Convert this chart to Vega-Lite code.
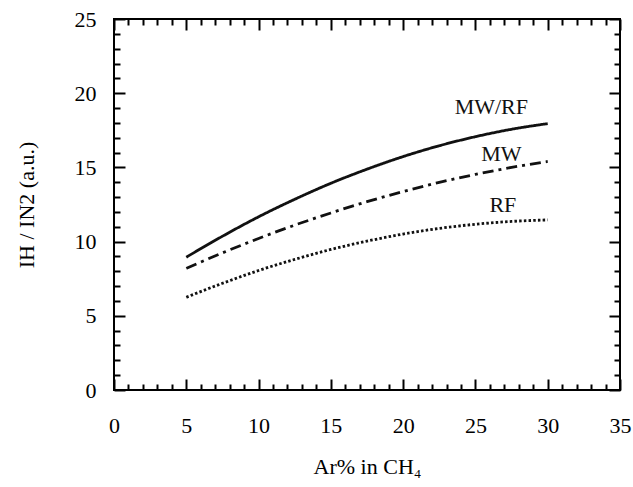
{
  "$schema": "https://vega.github.io/schema/vega-lite/v6.json",
  "width": 506,
  "height": 371,
  "autosize": {"type": "none"},
  "padding": {"left": 114, "top": 19, "right": 13, "bottom": 97},
  "background": "#ffffff",
  "config": {
    "view": {"stroke": "#000000", "strokeWidth": 2},
    "font": "Liberation Serif",
    "axis": {
      "grid": false,
      "domain": false,
      "tickColor": "#000000",
      "tickWidth": 2,
      "labelFont": "Liberation Serif",
      "labelColor": "#000000",
      "labelFontSize": 22,
      "titleFont": "Liberation Serif",
      "titleColor": "#000000",
      "titleFontSize": 22,
      "titleFontWeight": "normal"
    }
  },
  "datasets": {
    "curves": [
      {"series": "MW/RF", "x": 5, "y": 8.95},
      {"series": "MW/RF", "x": 7.5, "y": 10.36},
      {"series": "MW/RF", "x": 10, "y": 11.67},
      {"series": "MW/RF", "x": 12.5, "y": 12.85},
      {"series": "MW/RF", "x": 15, "y": 13.93},
      {"series": "MW/RF", "x": 17.5, "y": 14.88},
      {"series": "MW/RF", "x": 20, "y": 15.73},
      {"series": "MW/RF", "x": 22.5, "y": 16.46},
      {"series": "MW/RF", "x": 25, "y": 17.07},
      {"series": "MW/RF", "x": 27.5, "y": 17.57},
      {"series": "MW/RF", "x": 30, "y": 17.95},
      {"series": "MW", "x": 5, "y": 8.2},
      {"series": "MW", "x": 7.5, "y": 9.24},
      {"series": "MW", "x": 10, "y": 10.21},
      {"series": "MW", "x": 12.5, "y": 11.11},
      {"series": "MW", "x": 15, "y": 11.93},
      {"series": "MW", "x": 17.5, "y": 12.69},
      {"series": "MW", "x": 20, "y": 13.37},
      {"series": "MW", "x": 22.5, "y": 13.99},
      {"series": "MW", "x": 25, "y": 14.53},
      {"series": "MW", "x": 27.5, "y": 15.0},
      {"series": "MW", "x": 30, "y": 15.4},
      {"series": "RF", "x": 5, "y": 6.25},
      {"series": "RF", "x": 7.5, "y": 7.19},
      {"series": "RF", "x": 10, "y": 8.05},
      {"series": "RF", "x": 12.5, "y": 8.8},
      {"series": "RF", "x": 15, "y": 9.47},
      {"series": "RF", "x": 17.5, "y": 10.03},
      {"series": "RF", "x": 20, "y": 10.51},
      {"series": "RF", "x": 22.5, "y": 10.89},
      {"series": "RF", "x": 25, "y": 11.17},
      {"series": "RF", "x": 27.5, "y": 11.36},
      {"series": "RF", "x": 30, "y": 11.46}
    ],
    "labels": [
      {"label": "MW/RF", "x": 26.1, "y": 19.1},
      {"label": "MW", "x": 26.8, "y": 15.9},
      {"label": "RF", "x": 26.9, "y": 12.45}
    ]
  },
  "layer": [
    {
      "data": {"name": "curves"},
      "mark": {"type": "line", "interpolate": "monotone", "strokeWidth": 2.8, "color": "#111111"},
      "encoding": {
        "x": {
          "field": "x", "type": "quantitative",
          "scale": {"domain": [0, 35], "nice": false, "zero": false},
          "axis": {
            "orient": "bottom",
            "values": [0,1,2,3,4,5,6,7,8,9,10,11,12,13,14,15,16,17,18,19,20,21,22,23,24,25,26,27,28,29,30,31,32,33,34,35],
            "labelExpr": "datum.value % 5 === 0 ? datum.label : ''",
            "tickSize": {"condition": {"test": "datum.value % 5 === 0", "value": -11}, "value": -6},
            "labelPadding": 36,
            "labelFlush": false,
            "labelOverlap": false,
            "title": "Ar% in CH₄",
            "titlePadding": 15
          }
        },
        "y": {
          "field": "y", "type": "quantitative",
          "scale": {"domain": [0, 25], "nice": false},
          "axis": {
            "orient": "left",
            "values": [0,1,2,3,4,5,6,7,8,9,10,11,12,13,14,15,16,17,18,19,20,21,22,23,24,25],
            "labelExpr": "datum.value % 5 === 0 ? datum.label : ''",
            "tickSize": {"condition": {"test": "datum.value % 5 === 0", "value": -11}, "value": -6},
            "labelPadding": 29,
            "labelFlush": false,
            "labelOverlap": false,
            "title": "IH / IN2 (a.u.)",
            "titlePadding": 36
          }
        },
        "strokeDash": {
          "field": "series", "type": "nominal",
          "scale": {"domain": ["MW/RF", "MW", "RF"], "range": [[1, 0], [11, 5, 3, 5], [2.5, 2.2]]},
          "legend": null
        }
      }
    },
    {
      "data": {"name": "labels"},
      "mark": {"type": "text", "font": "Liberation Serif", "fontSize": 22, "color": "#111111", "align": "center", "baseline": "middle"},
      "encoding": {
        "x": {
          "field": "x", "type": "quantitative",
          "axis": {
            "orient": "top",
            "values": [0,1,2,3,4,5,6,7,8,9,10,11,12,13,14,15,16,17,18,19,20,21,22,23,24,25,26,27,28,29,30,31,32,33,34,35],
            "labels": false,
            "tickSize": {"condition": {"test": "datum.value % 5 === 0", "value": -11}, "value": -6},
            "title": null
          }
        },
        "y": {
          "field": "y", "type": "quantitative",
          "axis": {
            "orient": "right",
            "values": [0,1,2,3,4,5,6,7,8,9,10,11,12,13,14,15,16,17,18,19,20,21,22,23,24,25],
            "labels": false,
            "tickSize": {"condition": {"test": "datum.value % 5 === 0", "value": -11}, "value": -6},
            "title": null
          }
        },
        "text": {"field": "label", "type": "nominal"}
      }
    }
  ],
  "resolve": {"axis": {"x": "independent", "y": "independent"}}
}
